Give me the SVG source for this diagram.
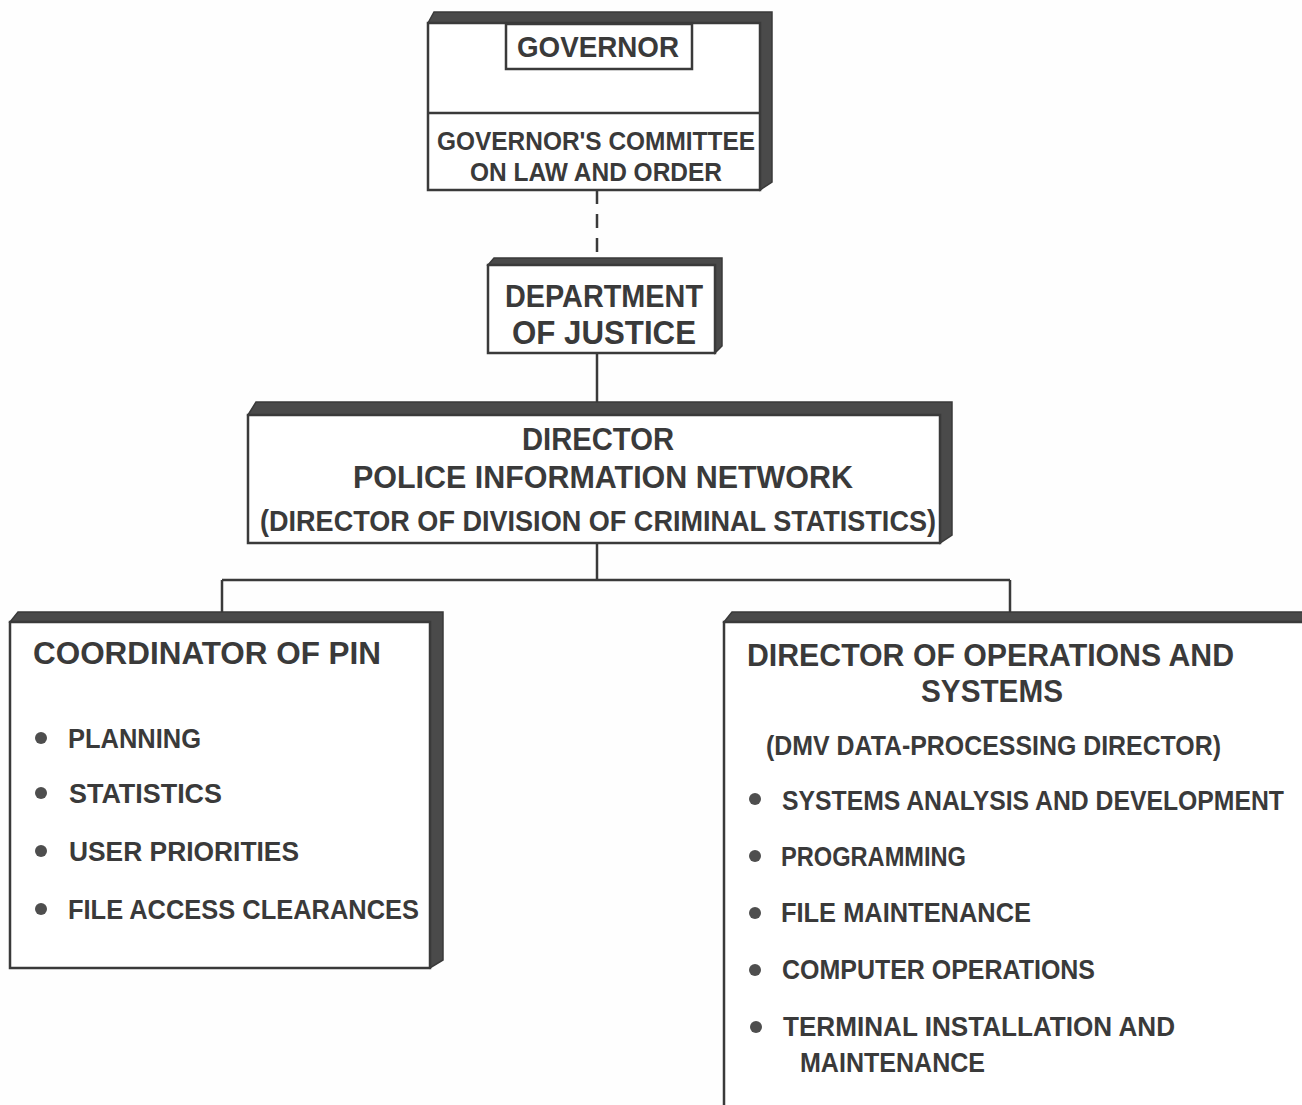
<svg xmlns="http://www.w3.org/2000/svg" width="1302" height="1105" viewBox="0 0 1302 1105">
<style>
.face{fill:#ffffff;stroke:#3a3a3a;stroke-width:2.5}
.band{fill:#4a4a4a;stroke:#3a3a3a;stroke-width:1.5}
.t{font-family:"Liberation Sans",Arial,sans-serif;font-weight:bold;fill:#3a3a3a}
.ln{stroke:#3a3a3a;stroke-width:2.5;fill:none}
.dot{fill:#4e4e4e}
</style>
<rect width="1302" height="1105" fill="#fefefe"/>
<g id="connectors">
<line class="ln" x1="598" y1="69" x2="598" y2="113"/>
<line class="ln" x1="597" y1="190" x2="597" y2="258" stroke-dasharray="14,10"/>
<line class="ln" x1="597" y1="353" x2="597" y2="402"/>
<line class="ln" x1="597" y1="543" x2="597" y2="580"/>
<line class="ln" x1="222" y1="580" x2="1010" y2="580"/>
<line class="ln" x1="222" y1="580" x2="222" y2="612"/>
<line class="ln" x1="1010" y1="580" x2="1010" y2="612"/>
</g>
<g id="governor-group">
<polygon class="band" points="428,23 434,12 772,12 772,182 760,190 760,23"/>
<rect class="face" x="428" y="23" width="332" height="167"/>
<line class="ln" x1="428" y1="113" x2="760" y2="113"/>
<g id="governor">
<rect class="face" x="506" y="24" width="186" height="45"/>
<text class="t" x="598" y="57" font-size="30" text-anchor="middle" textLength="162" lengthAdjust="spacingAndGlyphs">GOVERNOR</text>
</g>
<g id="committee">
<text class="t" x="596" y="150" font-size="26" text-anchor="middle" textLength="318" lengthAdjust="spacingAndGlyphs">GOVERNOR'S COMMITTEE</text>
<text class="t" x="596" y="181" font-size="26" text-anchor="middle" textLength="252" lengthAdjust="spacingAndGlyphs">ON LAW AND ORDER</text>
</g>
</g>
<g id="department">
<polygon class="band" points="488,265 494,258 722,258 722,346 715,353 715,265"/>
<rect class="face" x="488" y="265" width="227" height="88"/>
<text class="t" x="604" y="307" font-size="32" text-anchor="middle" textLength="198" lengthAdjust="spacingAndGlyphs">DEPARTMENT</text>
<text class="t" x="604" y="344" font-size="33" text-anchor="middle" textLength="184" lengthAdjust="spacingAndGlyphs">OF JUSTICE</text>
</g>
<g id="director">
<polygon class="band" points="248,415 256,402 952,402 952,535 940,543 940,415"/>
<rect class="face" x="248" y="415" width="692" height="128"/>
<text class="t" x="598" y="450" font-size="31" text-anchor="middle" textLength="152" lengthAdjust="spacingAndGlyphs">DIRECTOR</text>
<text class="t" x="603" y="488" font-size="31" text-anchor="middle" textLength="500" lengthAdjust="spacingAndGlyphs">POLICE INFORMATION NETWORK</text>
<text class="t" x="598" y="531" font-size="29" text-anchor="middle" textLength="676" lengthAdjust="spacingAndGlyphs">(DIRECTOR OF DIVISION OF CRIMINAL STATISTICS)</text>
</g>
<g id="coordinator">
<polygon class="band" points="10,622 18,612 443,612 443,960 430,968 430,622"/>
<rect class="face" x="10" y="622" width="420" height="346"/>
<text class="t" x="33" y="664" font-size="31" textLength="348" lengthAdjust="spacingAndGlyphs">COORDINATOR OF PIN</text>
<circle class="dot" cx="41" cy="738" r="6"/>
<text class="t" x="68" y="748" font-size="27" textLength="133" lengthAdjust="spacingAndGlyphs">PLANNING</text>
<circle class="dot" cx="41" cy="793" r="6"/>
<text class="t" x="69" y="803" font-size="27" textLength="153" lengthAdjust="spacingAndGlyphs">STATISTICS</text>
<circle class="dot" cx="41" cy="851" r="6"/>
<text class="t" x="69" y="861" font-size="27" textLength="230" lengthAdjust="spacingAndGlyphs">USER PRIORITIES</text>
<circle class="dot" cx="41" cy="909" r="6"/>
<text class="t" x="68" y="919" font-size="27" textLength="351" lengthAdjust="spacingAndGlyphs">FILE ACCESS CLEARANCES</text>
</g>
<g id="operations">
<polygon class="band" points="724,622 732,612 1310,612 1310,622"/>
<rect class="face" x="724" y="622" width="600" height="500"/>
<text class="t" x="747" y="666" font-size="31" textLength="487" lengthAdjust="spacingAndGlyphs">DIRECTOR OF OPERATIONS AND</text>
<text class="t" x="921" y="702" font-size="31" textLength="142" lengthAdjust="spacingAndGlyphs">SYSTEMS</text>
<text class="t" x="766" y="755" font-size="28" textLength="455" lengthAdjust="spacingAndGlyphs">(DMV DATA-PROCESSING DIRECTOR)</text>
<circle class="dot" cx="755" cy="799" r="6"/>
<text class="t" x="782" y="810" font-size="27" textLength="502" lengthAdjust="spacingAndGlyphs">SYSTEMS ANALYSIS AND DEVELOPMENT</text>
<circle class="dot" cx="755" cy="856" r="6"/>
<text class="t" x="781" y="866" font-size="27" textLength="185" lengthAdjust="spacingAndGlyphs">PROGRAMMING</text>
<circle class="dot" cx="755" cy="913" r="6"/>
<text class="t" x="781" y="922" font-size="27" textLength="250" lengthAdjust="spacingAndGlyphs">FILE MAINTENANCE</text>
<circle class="dot" cx="755" cy="970" r="6"/>
<text class="t" x="782" y="979" font-size="27" textLength="313" lengthAdjust="spacingAndGlyphs">COMPUTER OPERATIONS</text>
<circle class="dot" cx="756" cy="1027" r="6"/>
<text class="t" x="783" y="1036" font-size="27" textLength="392" lengthAdjust="spacingAndGlyphs">TERMINAL INSTALLATION AND</text>
<text class="t" x="800" y="1072" font-size="27" textLength="185" lengthAdjust="spacingAndGlyphs">MAINTENANCE</text>
</g>
</svg>
